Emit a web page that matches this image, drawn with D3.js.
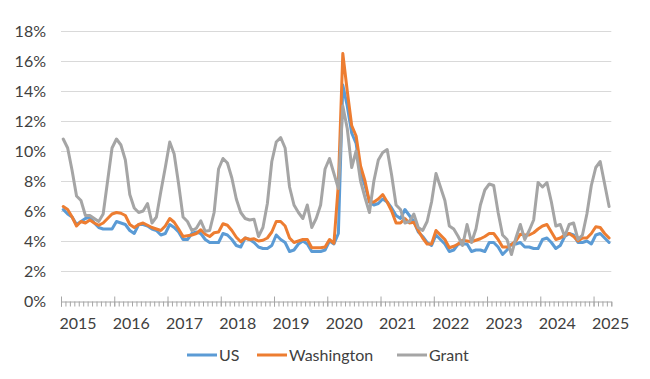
<!DOCTYPE html>
<html>
<head>
<meta charset="utf-8">
<script src="https://cdn.jsdelivr.net/npm/d3@7"></script>
<style>
  body { margin: 0; background: #fff; }
  text { font-family: Lato, "Open Sans", sans-serif; fill: #404040; }
</style>
</head>
<body>
<div id="chart"></div>
<script>
// monthly, Jan 2015 .. Apr 2025
const months = d3.timeMonth.range(new Date(2015, 0, 1), new Date(2025, 4, 1))
const yearLabels = ["2015","2016","2017","2018","2019","2020","2021","2022","2023","2024","2025"]
const yTicks = [0, 2, 4, 6, 8, 10, 12, 14, 16, 18]
const seriesNames = ["US", "Washington", "Grant"]

const us = [
  6.1,5.8,5.6,5.1,5.3,5.5,5.6,5.2,4.9,4.8,4.8,4.8,
  5.3,5.2,5.1,4.7,4.5,5.1,5.1,5.0,4.8,4.7,4.4,4.5,
  5.1,4.9,4.6,4.1,4.1,4.5,4.6,4.5,4.1,3.9,3.9,3.9,
  4.5,4.4,4.1,3.7,3.6,4.2,4.1,3.9,3.6,3.5,3.5,3.7,
  4.4,4.1,3.9,3.3,3.4,3.8,4.0,3.8,3.3,3.3,3.3,3.4,
  4.0,3.8,4.5,14.4,13.0,11.2,10.5,8.5,7.7,6.6,6.4,6.5,
  6.8,6.6,6.2,5.7,5.5,6.1,5.7,5.3,4.6,4.3,3.9,3.7,
  4.4,4.1,3.8,3.3,3.4,3.8,3.8,3.8,3.3,3.4,3.4,3.3,
  3.9,3.9,3.6,3.1,3.4,3.8,3.8,3.9,3.6,3.6,3.5,3.5,
  4.1,4.2,3.9,3.5,3.7,4.3,4.5,4.4,3.9,3.9,4.0,3.8,
  4.4,4.5,4.2,3.9
]
const washington = [
  6.3,6.1,5.6,5.0,5.3,5.2,5.4,5.2,5.05,5.2,5.5,5.8,
  5.9,5.85,5.7,5.1,4.9,5.1,5.2,5.05,4.9,4.8,4.7,5.0,
  5.5,5.25,4.8,4.3,4.35,4.4,4.5,4.75,4.45,4.3,4.55,4.6,
  5.15,5.05,4.7,4.25,3.95,4.2,4.1,4.15,4.0,4.05,4.2,4.6,
  5.3,5.3,5.0,4.2,3.9,4.0,4.1,4.1,3.55,3.55,3.55,3.6,
  4.1,3.85,7.8,16.5,14.0,11.7,11.0,9.0,8.0,6.6,6.6,6.8,
  7.1,6.6,6.0,5.2,5.2,5.5,5.2,5.25,4.7,4.2,3.8,3.8,
  4.7,4.4,4.1,3.55,3.65,3.8,4.05,4.0,3.95,4.05,4.15,4.3,
  4.5,4.5,4.1,3.6,3.6,3.75,4.0,4.45,4.4,4.4,4.55,4.8,
  5.0,5.1,4.6,4.1,4.2,4.4,4.5,4.3,4.0,4.2,4.2,4.5,
  4.95,4.9,4.5,4.2
]
const grant = [
  10.8,10.2,8.7,7.0,6.7,5.7,5.7,5.5,5.3,5.8,8.0,10.2,
  10.8,10.4,9.4,7.1,6.2,5.9,6.0,6.5,5.2,5.6,7.3,8.9,
  10.6,9.8,7.8,5.6,5.3,4.7,4.85,5.35,4.65,4.7,5.9,8.8,
  9.5,9.2,8.2,6.8,5.9,5.5,5.4,5.45,4.3,4.9,6.5,9.3,
  10.6,10.9,10.2,7.6,6.4,5.9,5.5,6.4,4.9,5.5,6.4,8.8,
  9.5,8.5,7.5,13.0,11.5,8.9,10.0,8.0,6.9,5.9,8.0,9.4,
  9.9,10.1,8.4,6.4,6.1,5.2,5.3,5.8,4.9,4.7,5.3,6.6,
  8.5,7.6,6.7,5.0,4.8,4.3,3.7,5.1,3.9,4.8,6.4,7.4,
  7.8,7.7,5.9,4.4,4.1,3.1,4.2,5.1,4.1,4.7,5.4,7.9,
  7.6,7.9,6.6,5.0,5.1,4.3,5.1,5.2,4.1,4.4,5.8,7.7,
  8.9,9.3,7.8,6.3
]

const width = 650
const height = 379
const margin = {top: 31, right: 38, bottom: 78, left: 61}
const colors = ["#5B9BD5", "#ED7D31", "#A5A5A5"]
const series = [us, washington, grant]

const svg = d3.select("#chart")
    .append("svg")
    .attr("width", width)
    .attr("height", height)

const x = d3.scaleLinear()
    .domain([0, months.length])
    .range([margin.left, width - margin.right - 0.7])

const y = d3.scaleLinear()
    .domain([0, 18])
    .range([height - margin.bottom, margin.top])

// grid
svg.append("g")
    .attr("stroke", "#d9d9d9")
    .attr("stroke-width", 1)
    .selectAll("line")
    .data(yTicks.filter(d => d > 0))
    .join("line")
    .attr("x1", x(0))
    .attr("x2", x(months.length))
    .attr("y1", d => y(d) + 0.5)
    .attr("y2", d => y(d) + 0.5)

// y labels
svg.append("g")
    .selectAll("text")
    .data(yTicks)
    .join("text")
    .attr("x", 46)
    .attr("y", d => y(d))
    .attr("dy", "0.36em")
    .attr("text-anchor", "end")
    .style("font-size", "16px")
    .text(d => d + "%")

// x axis: minor ticks each month, crossing major ticks each year
const xAxisY = y(0) + 0.5
svg.append("g")
    .attr("transform", `translate(0,${xAxisY})`)
    .call(d3.axisBottom(x).tickValues(d3.range(0, months.length + 1)).tickSize(5).tickFormat(""))
    .call(g => g.selectAll("line,path").attr("stroke", "#a6a6a6"))

svg.append("g")
    .attr("transform", `translate(0,${xAxisY - 5})`)
    .call(d3.axisBottom(x).tickValues(d3.range(0, months.length, 12)).tickSize(10).tickSizeOuter(0).tickFormat(""))
    .call(g => g.select(".domain").remove())
    .call(g => g.selectAll("line").attr("stroke", "#a6a6a6"))

svg.append("g")
    .selectAll("text")
    .data(yearLabels)
    .join("text")
    .attr("x", (d, i) => x(i * 12) - 1.5)
    .attr("y", 328.5)
    .attr("text-anchor", "start")
    .style("font-size", "16px")
    .text(d => d)

// lines
const line = d3.line()
    .x((d, i) => x(i + 0.5))
    .y(d => y(d))

svg.append("g")
    .selectAll("path")
    .data(series)
    .join("path")
    .attr("fill", "none")
    .attr("stroke", (d, i) => colors[i])
    .attr("stroke-width", 3)
    .attr("stroke-linejoin", "round")
    .attr("stroke-linecap", "round")
    .attr("d", line)

// legend
const legendX = [187, 257, 397]
const legend = svg.append("g")
    .selectAll("g")
    .data(seriesNames)
    .join("g")
    .attr("transform", (d, i) => `translate(${legendX[i]},355)`)

legend.append("line")
    .attr("x1", 0)
    .attr("x2", 30)
    .attr("stroke", (d, i) => colors[i])
    .attr("stroke-width", 3)

legend.append("text")
    .attr("x", 32)
    .attr("dy", "0.36em")
    .style("font-size", "16px")
    .text(d => d)
</script>
</body>
</html>
